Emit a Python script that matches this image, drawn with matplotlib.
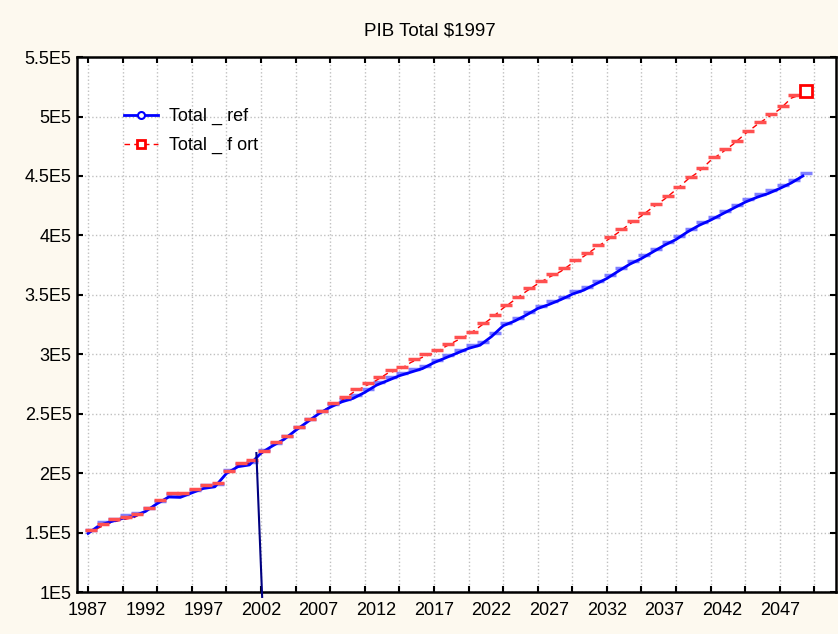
import matplotlib
matplotlib.use("Agg")
import matplotlib.pyplot as plt
import matplotlib.transforms as mtransforms
from matplotlib.lines import Line2D
from matplotlib.ticker import FuncFormatter

plt.rcParams['font.family'] = ['Liberation Sans', 'DejaVu Sans']

years = list(range(1987, 2050))

# Total _ ref (blue solid line)
total_ref = [
    1.494, 1.563, 1.593, 1.620, 1.640, 1.680, 1.745, 1.800, 1.797, 1.835,
    1.872, 1.886, 1.998, 2.055, 2.070, 2.170, 2.230, 2.285, 2.360, 2.430,
    2.500, 2.555, 2.600, 2.630, 2.680, 2.740, 2.780, 2.820, 2.850, 2.880,
    2.930, 2.970, 3.010, 3.050, 3.077, 3.150, 3.240, 3.280, 3.330, 3.385,
    3.420, 3.460, 3.506, 3.540, 3.590, 3.638, 3.700, 3.759, 3.806, 3.862,
    3.918, 3.966, 4.030, 4.085, 4.129, 4.180, 4.230, 4.280, 4.320, 4.353,
    4.395, 4.442, 4.500,
]
total_ref = [v * 1e5 for v in total_ref]

# Total _ fort (red dashed line)
total_fort = [
    1.496, 1.544, 1.586, 1.609, 1.628, 1.679, 1.749, 1.805, 1.805, 1.839,
    1.875, 1.889, 1.995, 2.065, 2.085, 2.161, 2.234, 2.287, 2.365, 2.430,
    2.500, 2.562, 2.612, 2.680, 2.730, 2.781, 2.842, 2.870, 2.932, 2.975,
    3.010, 3.065, 3.117, 3.165, 3.235, 3.305, 3.389, 3.458, 3.529, 3.593,
    3.649, 3.697, 3.767, 3.824, 3.893, 3.958, 4.025, 4.098, 4.165, 4.238,
    4.305, 4.385, 4.470, 4.538, 4.631, 4.698, 4.771, 4.855, 4.930, 4.995,
    5.062, 5.155, 5.190,
]
total_fort = [v * 1e5 for v in total_fort]

# stray vertical segment near 2002
drop_x = [2001.6, 2002.1]
drop_y = [2.17e5, 0.96e5]

x_labels = list(range(1987, 2048, 5))
x_grid = list(range(1987, 2051, 3))
y_ticks = [1e5 + 0.5e5 * i for i in range(10)]

bg = '#fdf9ef'
fig = plt.figure(figsize=(8.38, 6.34), dpi=100, facecolor=bg)
ax = fig.add_axes([0.092, 0.066, 0.906, 0.844])
ax.set_facecolor('white')

# marker dashes sit slightly up/right of the line
off = mtransforms.offset_copy(ax.transData, fig=fig, x=3, y=3, units='dots')

ax.plot(years, total_fort, color='#ff0000', lw=1, dashes=(4, 3), zorder=3)
ax.plot(years[:-1], total_fort[:-1], ls='none', marker='_', ms=9, mew=2.5,
        color='#ff5050', transform=off, zorder=4)
ax.plot(years[-1:], total_fort[-1:], ls='none', marker='s', ms=8, mew=2,
        mfc='white', mec='#ff0000', transform=off, zorder=5)

ax.plot(years, total_ref, color='#0000ff', lw=2, zorder=3)
ax.plot(years, total_ref, ls='none', marker='_', ms=9, mew=2.5,
        color='#8080ff', transform=off, zorder=2)

ax.plot(drop_x, drop_y, color='#000080', lw=1.5, clip_on=False, zorder=6)

ax.set_xlim(1986.05, 2051.9)
ax.set_ylim(1e5, 5.5e5)

ax.xaxis.remove_overlapping_locs = False
ax.set_xticks(x_grid)
ax.set_xticklabels([])
ax.set_xticks(x_labels, minor=True)
ax.set_xticklabels([str(y) for y in x_labels], minor=True)
ax.tick_params(axis='x', which='minor', length=0, pad=7)
ax.set_yticks(y_ticks)
ax.yaxis.set_major_formatter(FuncFormatter(lambda v, p: f"{v / 1e5:g}E5"))
ax.tick_params(which='major', direction='in', length=4, width=1.5,
               top=True, right=True)
ax.tick_params(which='both', labelsize=13, colors='black')
ax.tick_params(axis='y', pad=4)

ax.grid(True, which='major', color='#c0c0c0', linestyle=':', linewidth=1)
for s in ax.spines.values():
    s.set_linewidth(1.8)
    s.set_color('black')

fig.text(0.513, 0.951, 'PIB Total \\$1997', ha='center', va='center', fontsize=13.5)

handles = [
    Line2D([], [], color='#0000ff', lw=2, marker='o', ms=5, mfc='white', mec='#0000ff', mew=1.5),
    Line2D([], [], color='#ff0000', lw=1, dashes=(4, 3), marker='s', ms=6, mfc='white', mec='#ff0000', mew=2),
]
ax.legend(handles, ['Total _ ref', 'Total _ f ort'], loc='upper left',
          bbox_to_anchor=(0.04, 0.935), frameon=False, fontsize=13,
          handlelength=1.9, handletextpad=0.6, labelspacing=0.65)

fig.savefig('out.png', dpi=100, facecolor=bg)
